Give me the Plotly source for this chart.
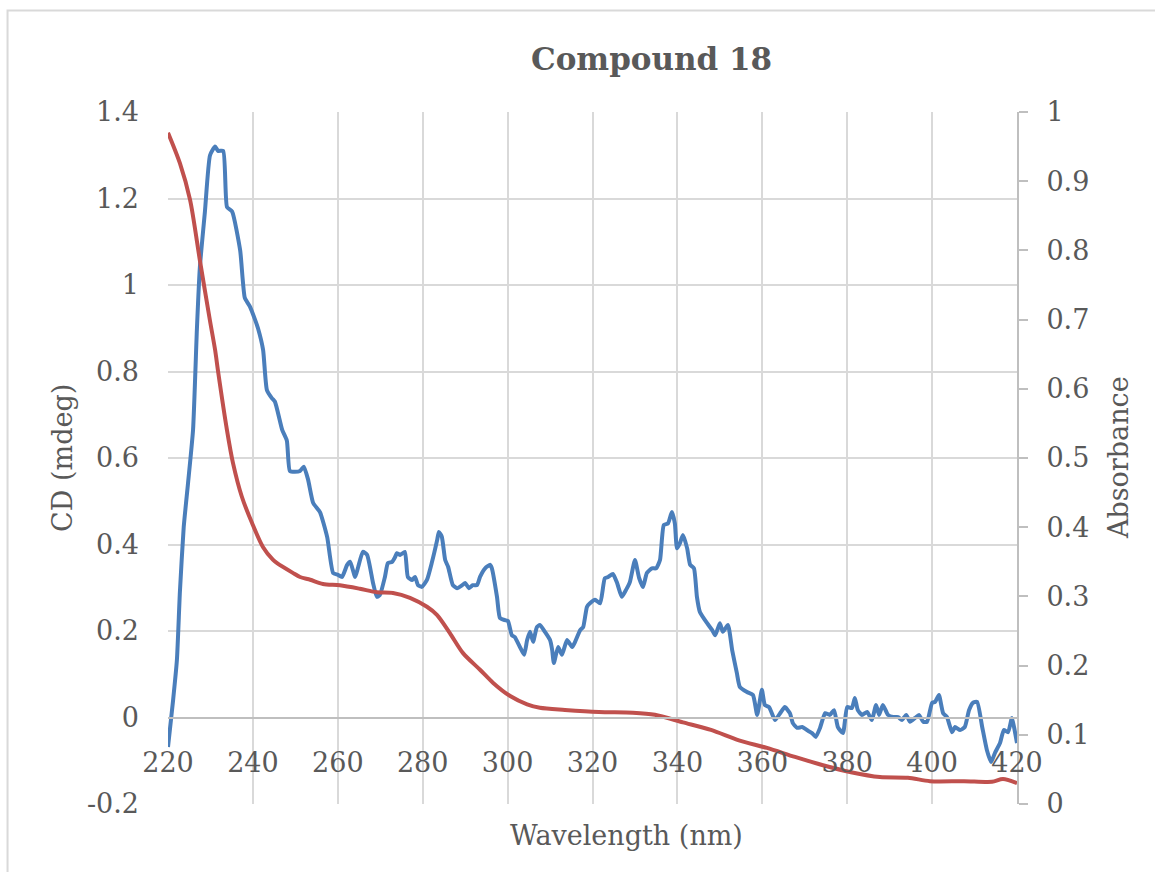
import plotly.graph_objects as go

# CD spectrum (left axis, mdeg)
cd_nm = [220.0, 221.2, 222.1, 222.8, 223.7, 224.7, 225.9, 226.8, 227.5, 228.7, 229.9,
         231.1, 231.8, 233.0, 233.9, 235.1, 237.0, 238.1, 239.3, 240.5, 241.2,
         242.4, 243.3, 244.5, 245.2, 246.9, 248.0, 248.7, 249.9, 251.1, 252.0,
         253.0, 254.2, 255.8, 257.5, 258.9, 260.0, 261.0, 262.2, 262.9, 264.1,
         264.8, 265.9, 266.9, 268.3, 269.2, 269.9, 271.1, 271.8, 272.8, 273.5,
         273.9, 274.7, 275.8, 276.5, 277.5, 278.2, 278.9, 279.8, 281.0, 282.2,
         283.4, 283.8, 284.5, 285.3, 286.0, 287.1, 288.1, 289.3, 290.0, 290.9,
         291.8, 292.8, 293.5, 294.7, 295.9, 296.3, 297.5, 298.2, 299.4, 300.1,
         301.0, 301.7, 302.9, 303.9, 304.6, 305.3, 306.0, 306.9, 307.6, 308.8,
         310.0, 310.5, 310.9, 311.9, 312.8, 314.0, 315.2, 315.9, 317.1, 317.8,
         318.7, 319.4, 320.6, 321.8, 322.9, 323.7, 324.8, 325.8, 326.9, 327.9,
         328.8, 330.0, 331.0, 331.9, 332.8, 334.0, 335.0, 335.9, 336.8, 337.8,
         338.7, 339.4, 339.9, 340.6, 341.3, 342.3, 343.0, 343.9, 344.6, 345.3,
         347.0, 348.2, 348.9, 350.0, 350.7, 351.9, 352.9, 354.0, 354.7, 356.4,
         357.8, 358.8, 359.9, 360.6, 361.6, 363.0, 364.2, 365.3, 366.5, 367.2,
         368.2, 369.4, 370.5, 371.7, 372.6, 373.6, 374.8, 375.9, 376.9, 377.8,
         379.0, 380.0, 381.1, 381.8, 382.5, 383.5, 384.7, 385.8, 386.8, 387.5,
         388.4, 389.6, 390.8, 392.0, 392.9, 393.9, 394.8, 396.0, 396.9, 397.9,
         398.8, 400.0, 400.7, 401.6, 402.6, 403.5, 404.7, 405.4, 406.6, 407.7,
         408.7, 409.6, 410.6, 411.8, 412.9, 413.9, 414.8, 416.0, 416.9, 417.9,
         418.8, 419.3, 420.0]
cd_val = [-0.068, 0.04, 0.133, 0.29, 0.44, 0.54, 0.665, 0.896, 1.04, 1.17, 1.30,
          1.32, 1.31, 1.31, 1.18, 1.17, 1.08, 0.97, 0.95, 0.92, 0.90,
          0.85, 0.757, 0.738, 0.73, 0.665, 0.64, 0.57, 0.568, 0.57, 0.58,
          0.55, 0.496, 0.475, 0.417, 0.334, 0.33, 0.325, 0.353, 0.36, 0.325,
          0.348, 0.383, 0.376, 0.311, 0.279, 0.283, 0.325, 0.357, 0.36, 0.371,
          0.38, 0.376, 0.383, 0.325, 0.318, 0.325, 0.306, 0.302, 0.318, 0.36,
          0.41, 0.429, 0.418, 0.364, 0.348, 0.306, 0.299, 0.306, 0.311, 0.299,
          0.306, 0.306, 0.325, 0.345, 0.353, 0.345, 0.279, 0.23, 0.225, 0.223,
          0.19, 0.186, 0.163, 0.145, 0.179, 0.198, 0.175, 0.209, 0.214, 0.198,
          0.179, 0.156, 0.126, 0.163, 0.145, 0.179, 0.163, 0.175, 0.202, 0.209,
          0.256, 0.264, 0.272, 0.264, 0.322, 0.325, 0.332, 0.311, 0.279, 0.295,
          0.313, 0.364, 0.322, 0.302, 0.334, 0.345, 0.345, 0.364, 0.445, 0.449,
          0.475, 0.449, 0.391, 0.403, 0.422, 0.391, 0.353, 0.345, 0.279, 0.244,
          0.218, 0.202, 0.19, 0.218, 0.198, 0.214, 0.156, 0.103, 0.071, 0.059,
          0.052, 0.006, 0.064, 0.029, 0.024, -0.006, 0.01, 0.024, 0.01, -0.013,
          -0.024, -0.022, -0.029, -0.036, -0.045, -0.024, 0.01, 0.006, 0.017, -0.022,
          -0.036, 0.024, 0.022, 0.045, 0.017, 0.006, 0.013, -0.006, 0.029, 0.006,
          0.029, 0.006, 0.001, 0.001, -0.006, 0.006, -0.01, -0.001, 0.006, -0.01,
          -0.01, 0.034, 0.036, 0.052, 0.01, 0.001, -0.034, -0.022, -0.029, -0.022,
          0.017, 0.034, 0.036, -0.022, -0.075, -0.103, -0.082, -0.059, -0.029, -0.034,
          -0.001, -0.022, -0.059]

# UV absorbance (right axis)
abs_nm = [220.0, 222.8, 225.2, 227.5, 229.9, 231.1, 231.8, 233.9, 235.3, 237.4,
          239.8, 242.4, 244.7, 245.7, 249.4, 251.1, 253.5, 256.5, 260.5, 265.2,
          269.2, 273.0, 277.0, 281.0, 283.4, 286.4, 289.5, 293.5, 296.6, 300.6,
          304.6, 307.6, 313.5, 321.5, 329.5, 334.7, 341.3, 347.9, 354.5, 361.1,
          367.7, 374.3, 380.9, 387.7, 394.3, 399.5, 407.5, 414.1, 416.7, 420.0]
abs_val = [0.970, 0.926, 0.873, 0.786, 0.698, 0.656, 0.625, 0.540, 0.493, 0.444,
           0.406, 0.371, 0.353, 0.348, 0.334, 0.328, 0.324, 0.318, 0.316, 0.311,
           0.306, 0.305, 0.298, 0.285, 0.273, 0.247, 0.218, 0.194, 0.175, 0.156,
           0.144, 0.139, 0.136, 0.133, 0.132, 0.129, 0.118, 0.107, 0.092, 0.081,
           0.068, 0.056, 0.046, 0.039, 0.038, 0.033, 0.033, 0.032, 0.036, 0.030]

# Axis ticks
x_ticks = [220, 240, 260, 280, 300, 320, 340, 360, 380, 400, 420]
cd_ticks = [-0.2, 0, 0.2, 0.4, 0.6, 0.8, 1.0, 1.2, 1.4]
cd_tick_text = ["-0.2", "0", "0.2", "0.4", "0.6", "0.8", "1", "1.2", "1.4"]
abs_ticks = [0, 0.1, 0.2, 0.3, 0.4, 0.5, 0.6, 0.7, 0.8, 0.9, 1.0]
abs_tick_text = ["0", "0.1", "0.2", "0.3", "0.4", "0.5", "0.6", "0.7", "0.8", "0.9", "1"]

FONT = "DejaVu Serif"
TXT = "#595959"
GRID = "#D9D9D9"
AXLINE = "#BFBFBF"
FS = 27

fig = go.Figure()
fig.add_trace(go.Scatter(
    x=cd_nm, y=cd_val, mode="lines", name="CD",
    line=dict(color="#4A7EBB", width=4, shape="spline", smoothing=0.5),
    yaxis="y"))
fig.add_trace(go.Scatter(
    x=abs_nm, y=abs_val, mode="lines", name="Absorbance",
    line=dict(color="#C0504D", width=4, shape="spline", smoothing=0.8),
    yaxis="y2"))

fig.update_layout(
    width=1155, height=872,
    margin=dict(l=168, r=138, t=112, b=68),
    paper_bgcolor="white", plot_bgcolor="white",
    showlegend=False,
    font=dict(family=FONT, color=TXT, size=FS),
    xaxis=dict(
        range=[220, 420], tickvals=x_ticks,
        showgrid=True, gridcolor=GRID, gridwidth=2,
        zeroline=False, showline=True, linecolor=AXLINE, linewidth=2,
        anchor="free", position=0.125,
        ticks="", ticklabelstandoff=21,
        tickfont=dict(family=FONT, color=TXT, size=FS),
    ),
    yaxis=dict(
        range=[-0.2, 1.4], tickvals=cd_ticks, ticktext=cd_tick_text,
        showgrid=True, gridcolor=GRID, gridwidth=2,
        zeroline=False, showline=False,
        ticks="", ticklabelstandoff=28,
        tickfont=dict(family=FONT, color=TXT, size=FS),
    ),
    yaxis2=dict(
        range=[0, 1], tickvals=abs_ticks, ticktext=abs_tick_text,
        overlaying="y", side="right", anchor="x",
        showgrid=False, zeroline=False,
        showline=True, linecolor=AXLINE, linewidth=2,
        ticks="outside", ticklen=9, tickwidth=2, tickcolor=AXLINE,
        ticklabelstandoff=13,
        tickfont=dict(family=FONT, color=TXT, size=FS),
    ),
    annotations=[
        dict(text="<b>Compound 18</b>", xref="paper", yref="paper",
             x=0.569, y=1.077, xanchor="center", yanchor="middle",
             showarrow=False, font=dict(family=FONT, color=TXT, size=31)),
        dict(text="CD (mdeg)", xref="paper", yref="paper",
             x=-0.125, y=0.5, xanchor="center", yanchor="middle",
             textangle=-90, showarrow=False,
             font=dict(family=FONT, color=TXT, size=FS)),
        dict(text="Absorbance", xref="paper", yref="paper",
             x=1.119, y=0.5, xanchor="center", yanchor="middle",
             textangle=-90, showarrow=False,
             font=dict(family=FONT, color=TXT, size=FS)),
        dict(text="Wavelength (nm)", xref="paper", yref="paper",
             x=0.5406, y=-0.045, xanchor="center", yanchor="middle",
             showarrow=False, font=dict(family=FONT, color=TXT, size=FS)),
    ],
    shapes=[
        dict(type="rect", xref="paper", yref="paper",
             x0=-0.189, x1=1.2, y0=-0.2, y1=1.1467,
             line=dict(color=GRID, width=2), fillcolor="rgba(0,0,0,0)",
             layer="below"),
    ],
)

fig.write_html("out.html")
